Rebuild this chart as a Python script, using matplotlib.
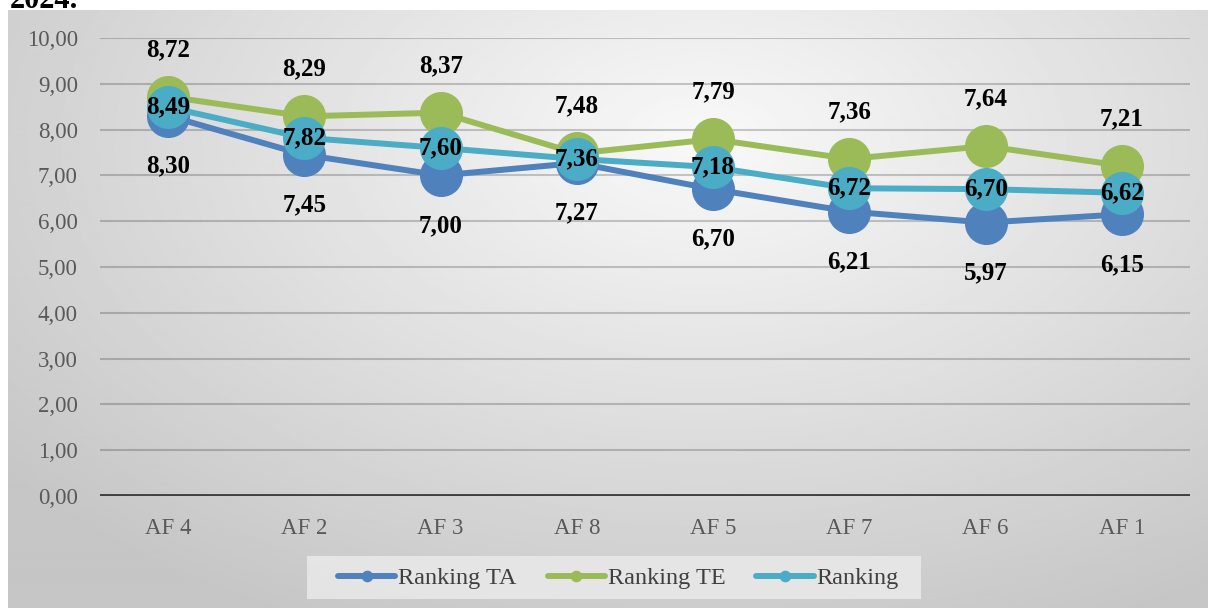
import matplotlib.pyplot as plt
from matplotlib.patches import Rectangle
import numpy as np

# Dados do gráfico
categorias = ["AF 4", "AF 2", "AF 3", "AF 8", "AF 5", "AF 7", "AF 6", "AF 1"]
ranking_ta = [8.30, 7.45, 7.00, 7.27, 6.70, 6.21, 5.97, 6.15]
ranking_te = [8.72, 8.29, 8.37, 7.48, 7.79, 7.36, 7.64, 7.21]
ranking = [8.49, 7.82, 7.60, 7.36, 7.18, 6.72, 6.70, 6.62]
y_ticks = [0, 1, 2, 3, 4, 5, 6, 7, 8, 9, 10]

plt.rcParams['font.family'] = ['Liberation Serif', 'DejaVu Serif']


def fmt(v):
    return f"{v:.2f}".replace('.', ',')


W, H = 1208, 608
fig = plt.figure(figsize=(W / 100, H / 100), dpi=100)

# Fundo com gradiente radial
bg = fig.add_axes([8 / W, 0, 1 - 8 / W, 1 - 10 / H], zorder=0)
yy, xx = np.mgrid[0:1:300j, 0:1:600j]
r = np.sqrt(((xx - 0.58) / 0.75) ** 2 + ((yy - 0.78) / 0.9) ** 2)
r = np.clip(r, 0, 1)
img = 0.975 - 0.20 * r
bg.imshow(img, cmap='gray', vmin=0, vmax=1, origin='lower', aspect='auto',
          extent=[0, 1, 0, 1], interpolation='bilinear')
bg.set_axis_off()

# Texto cortado no topo (parte de uma legenda do documento)
fig.text(10 / W, 1 - 8 / H, "2024.", fontsize=22, fontweight='bold',
         ha='left', va='baseline', color='black', zorder=-1)

ax = fig.add_axes([100 / W, (H - 496) / H, 1090 / W, 458 / H], zorder=1)
ax.patch.set_alpha(0)

x = np.arange(len(categorias))
series = [
    (ranking_ta, "Ranking TA", "#4F81BD", 'below'),
    (ranking_te, "Ranking TE", "#9BBB59", 'above'),
    (ranking, "Ranking", "#4BACC6", 'center'),
]

for vals, nome, cor, pos in series:
    ax.plot(x, vals, color=cor, linewidth=4.3, marker='o', markersize=31,
            markeredgewidth=0, label=nome, solid_capstyle='round')

for vals, nome, cor, pos in series:
    for xi, v in zip(x, vals):
        if pos == 'above':
            off = (0, 34)
        elif pos == 'below':
            off = (0, -36)
        else:
            off = (0, 0)
        ax.annotate(fmt(v), (xi, v), xytext=off, textcoords='offset points',
                    ha='center', va='center', fontsize=18, fontweight='bold',
                    color='black', zorder=5)

ax.set_xlim(-0.5, len(categorias) - 0.5)
ax.set_ylim(0, 10)
ax.set_yticks(y_ticks)
ax.set_yticklabels([fmt(t) for t in y_ticks])
ax.set_xticks(x)
ax.set_xticklabels(categorias)
ax.tick_params(axis='both', length=0, labelsize=16.5, labelcolor='#595959')
ax.tick_params(axis='y', pad=16)
ax.tick_params(axis='x', pad=16)

for t in y_ticks[1:]:
    ax.axhline(t, color='black', alpha=0.2, linewidth=1.5, zorder=0)
ax.axhline(0, color='#404040', linewidth=3.5, zorder=1)

for s in ax.spines.values():
    s.set_visible(False)

# Caixa da legenda (mais larga que o conteúdo, como no Excel)
fig.patches.append(Rectangle((307 / W, (H - 599) / H), 614 / W, 43 / H,
                             transform=fig.transFigure, facecolor='#E8E8E8',
                             edgecolor='none', alpha=0.9, zorder=0.5))

leg = ax.legend(loc='center left', bbox_to_anchor=(338 / W, (H - 578) / H),
                bbox_transform=fig.transFigure, ncol=3, frameon=False,
                fontsize=17.5, markerscale=0.27, handlelength=2.35,
                handletextpad=0.12, columnspacing=1.28, borderpad=0,
                borderaxespad=0)
for t in leg.get_texts():
    t.set_color('#404040')

fig.savefig("out.png", dpi=100)
